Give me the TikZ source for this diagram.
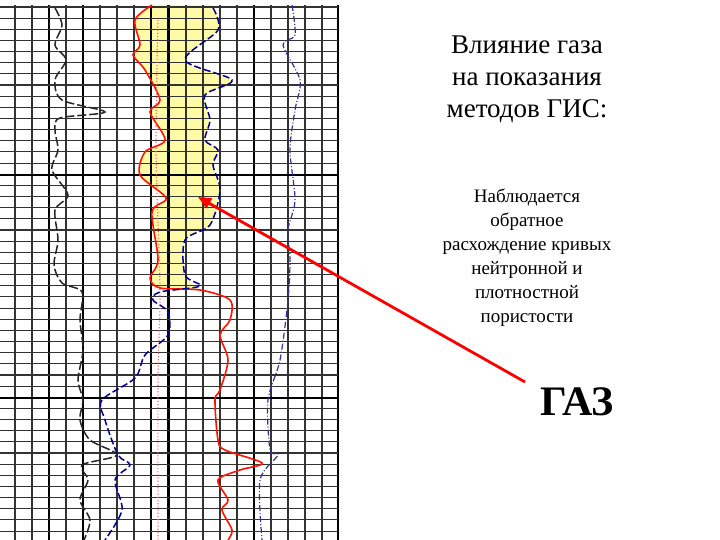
\documentclass[tikz,border=0pt]{standalone}
\usepackage{fontspec}
\setmainfont{Liberation Serif}
\usetikzlibrary{arrows.meta}
\begin{document}
\begin{tikzpicture}[x=1pt,y=-1pt,
  thin grid/.style={black!80,line width=1.1pt},
  thick grid/.style={black,line width=2pt},
  logblack/.style={black!85,line width=1.5pt,dash pattern=on 9pt off 3pt},
  logblue/.style={blue!60!black,line width=1.5pt,dash pattern=on 7pt off 3pt},
  logblue2/.style={blue!50!black!80,line width=1.2pt,dash pattern=on 6pt off 2pt on 1pt off 2pt},
  logred/.style={red!85!orange,line width=1.6pt},
  title/.style={font=\fontsize{27}{32}\selectfont,align=center},
  body/.style={font=\fontsize{19}{24}\selectfont,align=center}]
\useasboundingbox (0,0) rectangle (720,540);
\fill[white] (0,0) rectangle (720,540);
% yellow zone
\fill[yellow!35] plot[smooth] coordinates {(152,5)(135,20)(140,45)(133,55)(145,70)(160,100)(150,112)(165,140)(145,152)(140,175)(166,198)(152,212)(158,260)(150,278)(160,288)(200,290)}
 -- plot[smooth] coordinates {(200,290)(185,275)(185,240)(210,225)(220,190)(213,165)(218,150)(205,140)(210,120)(205,95)(232,80)(185,60)(218,30)(213,5)} -- cycle;
% grid
\foreach \x in {15,32,66,100,117,134,186,203,220,237,271,288,305,322}
  \draw[thin grid] (\x,5) -- (\x,540);
\foreach \x in {49,83,151,254,338}
  \draw[thick grid] (\x,5) -- (\x,540);
\draw[black,line width=3pt] (168,5) -- (168,540);
\foreach \i in {0,...,47}
  \draw[thin grid] (0,{7+11.15*\i}) -- (338,{7+11.15*\i});
\draw[thick grid] (0,175) -- (338,175);
\draw[thick grid] (0,398) -- (338,398);
% curves
\draw[logblack] plot[smooth] coordinates {(55,8)(62,25)(55,45)(66,60)(55,80)(62,100)(105,112)(60,118)(55,130)(58,150)(52,170)(68,195)(55,210)(58,240)(54,265)(62,283)(82,292)(80,320)(83,350)(78,380)(83,400)(80,420)(90,440)(117,455)(82,465)(88,480)(80,500)(90,520)(84,540)};
\draw[logred] plot[smooth] coordinates {(152,5)(135,20)(140,45)(133,55)(145,70)(160,100)(150,112)(165,140)(145,152)(140,175)(166,198)(152,212)(158,260)(150,278)(160,288)(200,290)(230,300)(230,320)(220,335)(228,360)(220,390)(215,400)(218,440)(225,450)(262,463)(240,470)(218,480)(228,500)(222,510)(232,530)(228,540)};
\draw[red!60,line width=1.2pt,dotted] plot[smooth] coordinates {(158,20)(156,150)(160,290)(158,380)(158,540)};
\draw[logblue] plot[smooth] coordinates {(213,8)(218,30)(185,60)(232,80)(205,95)(210,120)(205,140)(218,150)(213,165)(220,190)(210,225)(185,240)(185,275)(200,286)(160,292)(153,300)(168,312)(168,335)(145,355)(135,378)(102,400)(105,420)(118,455)(130,465)(115,480)(122,510)(105,540)};
\draw[logblue2] plot[smooth] coordinates {(292,5)(295,35)(283,45)(300,80)(295,110)(290,150)(295,200)(288,230)(290,260)(288,300)(280,360)(268,400)(270,450)(278,455)(260,480)(262,540)};
% text
\node[title] (t) at (527,79) {Влияние газа\\на показания\\методов ГИС:};
\node[body] (b) at (527,258) {Наблюдается\\обратное\\расхождение кривых\\нейтронной и\\плотностной\\пористости};
\node[font=\fontsize{42}{46}\selectfont\bfseries] (gaz) at (577,402) {ГАЗ};
\coordinate (tip) at (198,197);
\coordinate (tail) at (525,382);
\draw[red,line width=2.8pt,-{Triangle[length=13pt,width=11pt]}] (tail) -- (tip);
\end{tikzpicture}
\end{document}
